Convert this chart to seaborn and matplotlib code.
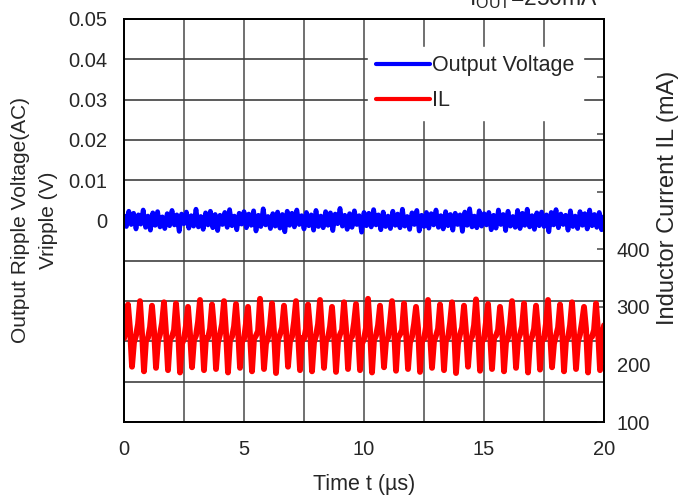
import matplotlib

matplotlib.use("Agg")
import matplotlib.pyplot as plt
import numpy as np
import pandas as pd
import seaborn as sns
from matplotlib.ticker import FixedLocator, NullFormatter

# ripple on the output, mV, one sample every 0.1 us over 0..20 us
vout_ripple_mv = [
    1.2, -1.5, 2.3, -1.0, 1.8, -2.1, 1.4, -0.9, 2.6, -1.7,
    1.1, -2.4, 1.9, -1.2, 2.2, -1.6, 0.9, -2.0, 1.7, -1.3,
    2.5, -1.1, 1.4, -2.7, 1.6, -0.8, 2.1, -1.9, 1.2, -1.4,
    2.8, -1.6, 1.0, -2.2, 1.9, -1.1, 2.3, -1.8, 1.5, -2.5,
    1.3, -1.0, 2.0, -1.7, 2.7, -1.3, 1.1, -2.3, 1.8, -0.9,
    2.2, -1.8, 1.6, -1.2, 2.4, -2.6, 1.3, -1.5, 2.9, -1.1,
    1.0, -2.0, 1.7, -1.4, 2.1, -1.9, 1.5, -2.8, 2.3, -1.2,
    1.8, -1.6, 2.6, -1.0, 1.2, -2.1, 2.0, -1.3, 1.4, -2.4,
    2.5, -1.5, 1.1, -1.8, 2.2, -1.2, 1.9, -2.5, 1.6, -0.8,
    3.0, -1.4, 1.3, -2.2, 1.7, -1.7, 2.4, -1.0, 1.2, -2.9,
    2.0, -1.3, 1.8, -1.6, 2.7, -1.1, 1.4, -2.3, 2.1, -1.5,
    1.1, -2.0, 2.3, -1.2, 1.6, -1.8, 2.8, -1.4, 1.0, -2.2,
    1.9, -1.0, 2.5, -2.6, 1.3, -1.5, 2.0, -1.9, 1.7, -1.1,
    2.6, -1.7, 1.2, -2.1, 2.2, -1.3, 1.5, -2.4, 1.8, -1.0,
    1.4, -2.7, 2.1, -1.2, 2.9, -1.6, 1.1, -1.8, 2.4, -1.4,
    1.7, -1.1, 2.0, -2.3, 1.3, -1.9, 2.6, -1.0, 1.5, -2.5,
    2.3, -1.4, 1.0, -1.7, 2.5, -2.0, 1.8, -1.2, 2.8, -1.6,
    1.2, -2.2, 1.9, -1.3, 2.1, -1.5, 1.4, -2.8, 2.0, -1.1,
    2.7, -1.8, 1.6, -1.0, 1.3, -2.4, 2.4, -1.5, 1.1, -2.0,
    2.2, -1.2, 1.7, -2.1, 2.6, -1.3, 1.5, -1.7, 2.0, -2.3,
    1.0,
]
vout_dt_us = 0.1

# inductor current, mA, six samples per 0.5 us switching period
il_ma = [
    245, 258, 304, 262, 196, 238,
    250, 270, 310, 255, 188, 242,
    246, 265, 302, 260, 194, 240,
    252, 272, 308, 256, 190, 244,
    248, 260, 306, 262, 186, 236,
    244, 268, 300, 254, 195, 242,
    250, 274, 312, 258, 190, 246,
    246, 262, 304, 264, 192, 238,
    252, 270, 310, 256, 186, 242,
    248, 266, 305, 260, 194, 240,
    244, 272, 300, 252, 188, 244,
    250, 258, 314, 262, 192, 236,
    246, 268, 306, 256, 185, 242,
    252, 264, 302, 260, 196, 240,
    248, 274, 310, 254, 190, 246,
    244, 262, 304, 264, 188, 238,
    250, 270, 312, 258, 194, 242,
    246, 266, 300, 252, 187, 240,
    252, 260, 308, 262, 192, 244,
    248, 272, 305, 256, 190, 236,
    244, 264, 314, 260, 186, 242,
    250, 268, 302, 254, 195, 240,
    246, 274, 310, 262, 189, 246,
    252, 260, 306, 256, 192, 238,
    248, 270, 300, 264, 187, 242,
    244, 266, 312, 252, 194, 240,
    250, 262, 304, 258, 190, 244,
    246, 272, 308, 262, 185, 236,
    252, 264, 302, 256, 196, 242,
    248, 268, 313, 260, 189, 240,
    244, 274, 305, 254, 192, 246,
    250, 260, 300, 264, 188, 238,
    246, 270, 310, 258, 194, 242,
    252, 266, 306, 252, 186, 240,
    248, 262, 302, 262, 191, 244,
    244, 272, 312, 256, 195, 236,
    250, 264, 304, 260, 188, 242,
    246, 268, 308, 254, 192, 240,
    252, 274, 300, 262, 186, 246,
    248, 260, 306, 258, 190, 244,
    268,
]
il_dt_us = 0.5 / 6

x_major = [0, 5, 10, 15, 20]
x_minor = [2.5, 7.5, 12.5, 17.5]
v_ticks = [-0.05, -0.04, -0.03, -0.02, -0.01, 0, 0.01, 0.02, 0.03, 0.04, 0.05]
v_labels = ["", "", "", "", "", "0", "0.01", "0.02", "0.03", "0.04", "0.05"]
il_ticks = [100, 200, 300, 400, 500, 600, 700]
il_labels = ["100", "200", "300", "400", "", "", ""]

FS = 14.5

df_v = pd.DataFrame(
    {
        "time_us": np.arange(len(vout_ripple_mv)) * vout_dt_us,
        "vripple_v": np.array(vout_ripple_mv) / 1000.0,
    }
)
df_il = pd.DataFrame(
    {"time_us": np.arange(len(il_ma)) * il_dt_us, "il_ma": il_ma}
)

sns.set_style("white")
plt.rcParams["font.family"] = ["Liberation Sans", "DejaVu Sans"]
plt.rcParams["mathtext.fontset"] = "custom"
plt.rcParams["mathtext.rm"] = "Liberation Sans"

fig = plt.figure(figsize=(6.9, 4.97), dpi=100)
ax = fig.add_axes([0.1797, 0.1509, 0.6957, 0.8109])
ax2 = ax.twinx()

sns.lineplot(
    data=df_v, x="time_us", y="vripple_v", ax=ax,
    color="#0000FF", linewidth=3.4, legend=False,
)
sns.lineplot(
    data=df_il, x="time_us", y="il_ma", ax=ax2,
    color="#FF0000", linewidth=4.2, legend=False,
)

ax.set_xlim(0, 20)
ax.set_ylim(-0.05, 0.05)
ax2.set_ylim(100, 800)

ax.xaxis.set_major_locator(FixedLocator(x_major))
ax.xaxis.set_minor_locator(FixedLocator(x_minor))
ax.xaxis.set_minor_formatter(NullFormatter())
ax.set_xticklabels([str(v) for v in x_major])
ax.set_yticks(v_ticks)
ax.set_yticklabels(v_labels)
ax2.set_yticks(il_ticks)
ax2.set_yticklabels(il_labels)

ax.grid(True, which="both", axis="x", color="#707070", linewidth=1.4)
ax.grid(True, which="major", axis="y", color="#404040", linewidth=1.2)
ax2.grid(False)

ax.tick_params(axis="x", which="both", length=0, pad=13, labelsize=FS)
ax.tick_params(axis="y", length=0, pad=12, labelsize=FS)
ax2.tick_params(
    axis="y", direction="in", length=5, width=1.2, color="#555555",
    pad=9, labelsize=FS,
)

for a in (ax, ax2):
    for s in a.spines.values():
        s.set_color("black")
        s.set_linewidth(1.3)

ax.set_xlabel("Time t (µs)", fontsize=15.5, labelpad=11)
ax.set_ylabel(
    "Output Ripple Voltage(AC)\nVripple (V)", fontsize=15, linespacing=1.6
)
ax.yaxis.set_label_coords(-0.137, 0.5)
ax2.set_ylabel("Inductor Current IL (mA)", fontsize=17)
ax2.yaxis.set_label_coords(1.11, 0.555)

handles = [ax.get_lines()[0], ax2.get_lines()[0]]
leg = ax2.legend(
    handles, ["Output Voltage", "IL"],
    loc="upper left", bbox_to_anchor=(0.485, 0.958),
    fontsize=15.5, frameon=True, framealpha=1.0, facecolor="white",
    edgecolor="white", fancybox=False, handlelength=2.5,
    handletextpad=0.1, labelspacing=0.65, borderpad=0.4,
)
for line in leg.get_lines():
    line.set_linewidth(3.0)

fig.text(
    0.866, 0.99, r"I$_{\mathregular{OUT}}$=250mA",
    ha="right", va="baseline", fontsize=16.5,
)

fig.savefig("out.png", dpi=100)
